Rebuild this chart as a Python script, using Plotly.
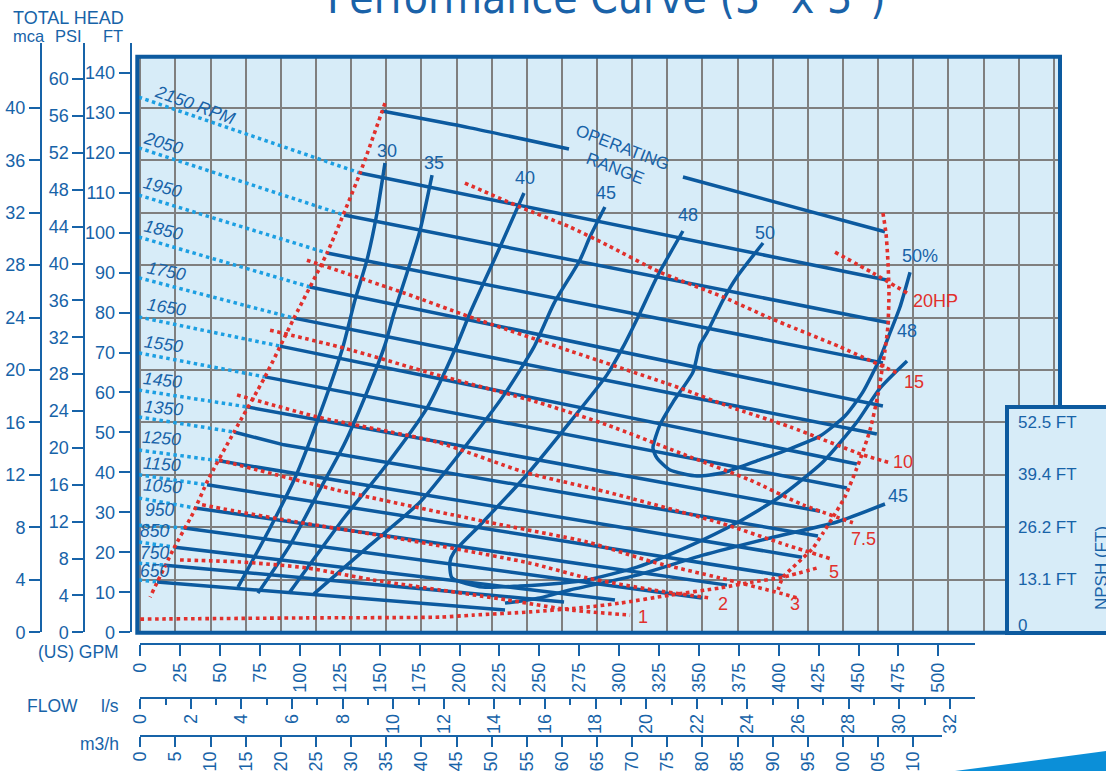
import plotly.graph_objects as go

W, H = 1106, 771

# ------------------------------------------------------------------
# Data (flow in US GPM, head in feet)
# ------------------------------------------------------------------
GPM_PER_LPS = 15.8503
GPM_PER_M3H = 4.40287
FT_PER_M = 3.28084
FT_PER_PSI = 2.30666

rpm_values = [2150, 2050, 1950, 1850, 1750, 1650, 1550, 1450, 1350, 1250, 1150, 1050, 950, 850, 750, 650]
rpm_start_gpm = [137.7, 127.6, 117.0, 106.3, 96.3, 87.5, 78.1, 66.8, 58.7, 49.3, 41.8, 34.3, 27.4, 21.7, 15.5, 10.5]
rpm_start_ft = [114.9, 104.4, 94.9, 86.4, 78.6, 71.6, 63.9, 56.4, 50.1, 42.9, 36.9, 31.1, 26.1, 21.3, 16.8, 12.6]
rpm_end_gpm = [468.4, 469.7, 465.3, 465.3, 461.5, 449.0, 442.7, 425.9, 424.6, 414.6, 404.0, 367.6, 351.9, 297.4, 265.5, 228.5]
rpm_end_ft = [88.1, 77.4, 67.4, 56.6, 49.6, 42.1, 36.1, 30.3, 24.1, 18.8, 14.1, 11.8, 8.6, 8.1, 7.6, 5.6]
rpm_left_gpm = -1.0
rpm_left_ft = [133.9, 121.2, 109.4, 98.9, 88.7, 78.9, 69.9, 60.6, 53.9, 45.6, 39.4, 33.6, 26.8, 22.6, 17.3, 13.1]
rpm_kink = {1350: (90.0, 46.9)}

rpm_label_text = ['2150 RPM', '2050', '1950', '1850', '1750', '1650', '1550', '1450',
                  '1350', '1250', '1150', '1050', '950', '850', '750', '650']
rpm_label_gpm = [34.5, 14.2, 14.2, 14.8, 16.1, 16.1, 14.8, 14.2, 14.8, 13.0, 13.6, 14.2, 12.3, 9.2, 9.2, 9.2]
rpm_label_ft = [131.8, 122.3, 111.4, 100.7, 90.4, 81.4, 72.1, 63.1, 56.1, 48.6, 42.1, 36.6, 30.6, 25.3, 19.8, 15.3]
rpm_label_angle = [20, 17, 15, 13, 11, 9, 8, 6, 5, 4, 4, 4, 0, 0, 0, 0]

eff30_gpm = [153.3, 148.3, 142.0, 134.5, 126.4, 110.7, 96.9, 81.3, 61.2]
eff30_ft = [117.4, 104.9, 93.1, 83.1, 70.6, 52.6, 38.6, 26.1, 11.3]
eff35_gpm = [182.8, 175.3, 167.1, 159.0, 153.3, 142.0, 127.6, 110.7, 93.8, 73.7]
eff35_ft = [114.4, 100.6, 89.9, 79.9, 71.9, 60.1, 46.9, 34.4, 21.8, 9.8]
eff40_gpm = [240.4, 225.4, 206.6, 198.4, 179.6, 152.7, 127.6, 93.2]
eff40_ft = [109.9, 96.4, 79.9, 71.9, 56.1, 41.1, 28.6, 9.8]
eff45_gpm = [291.1, 281.7, 275.4, 259.2, 246.7, 227.9, 202.8, 175.3, 143.9, 108.8]
eff45_ft = [106.4, 98.9, 93.1, 82.3, 71.4, 59.4, 46.1, 32.6, 21.8, 9.6]
eff45r_gpm = [228.5, 250.4, 269.2, 311.3, 352.5, 394.6, 436.4, 466.6]
eff45r_ft = [7.3, 8.6, 10.6, 14.3, 19.3, 23.6, 27.6, 32.1]
eff48_gpm = [340.0, 323.7, 313.1, 302.5, 292.4, 269.2, 240.4, 212.8, 196.6, 194.0, 195.3, 214.7,
             237.9, 263.0, 279.9, 311.3, 342.5, 373.8, 400.8, 427.7, 449.0, 463.5, 480.4]
eff48_ft = [100.4, 88.9, 79.9, 71.4, 64.4, 52.6, 38.6, 26.8, 20.1, 17.6, 13.6, 11.3,
            11.6, 12.3, 13.1, 16.3, 21.3, 27.4, 33.9, 42.6, 52.6, 61.1, 67.9]
eff50_gpm = [390.2, 373.8, 365.1, 355.0, 350.6, 346.3, 333.8, 325.6, 321.2, 323.7, 331.9,
             348.8, 365.1, 386.3, 407.1, 425.9, 441.5, 452.7, 463.5, 469.7, 476.0, 482.3]
eff50_ft = [97.4, 88.9, 83.1, 74.9, 71.9, 65.1, 57.6, 51.9, 46.1, 43.6, 40.6,
            39.1, 39.9, 42.9, 45.9, 49.1, 54.1, 60.1, 68.6, 74.9, 81.4, 90.1]

eff_label_text = ['30', '35', '40', '45', '48', '50', '50%', '48', '45']
eff_label_gpm = [154.6, 184.0, 241.0, 291.8, 343.1, 391.4, 488.5, 480.4, 474.8]
eff_label_ft = [120.3, 117.3, 113.7, 109.8, 104.4, 100.0, 94.1, 75.3, 34.0]

op_top_a_gpm = [151.4, 206.6, 268.6]
op_top_a_ft = [130.4, 126.2, 120.9]
op_top_b_gpm = [340.0, 466.6]
op_top_b_ft = [113.9, 100.2]

left_bound_gpm = [153.3, 137.7, 117.0, 96.3, 78.1, 58.7, 42.4, 33.0, 20.5, 6.1]
left_bound_ft = [132.4, 114.9, 94.9, 78.6, 63.9, 50.1, 38.1, 29.8, 20.6, 8.8]
bottom_bound_gpm = [0.0, 104.4, 187.8, 208.5, 244.2, 279.9, 300.6, 331.9, 363.2, 383.8, 402.7, 425.9]
bottom_bound_ft = [3.3, 3.6, 3.8, 4.3, 5.1, 6.3, 7.3, 9.3, 11.1, 12.6, 13.8, 16.3]
right_bound_gpm = [465.3, 467.2, 468.4, 469.1, 468.4, 466.6, 464.7, 462.2, 457.2, 450.9, 441.5,
                   434.0, 427.7, 421.5, 415.2, 409.0, 402.7, 399.6]
right_bound_ft = [104.9, 99.9, 93.1, 84.9, 76.4, 70.6, 65.6, 59.4, 50.6, 43.1, 33.9,
                  28.8, 24.8, 21.1, 18.6, 16.3, 13.8, 10.6]

hp20_gpm = [435.3, 459.0, 480.4]
hp20_ft = [95.1, 89.9, 84.9]
hp15_gpm = [203.4, 237.9, 269.2, 292.4, 325.6, 365.1, 394.6, 438.4, 474.1]
hp15_ft = [112.4, 106.4, 101.4, 96.9, 90.1, 83.9, 78.6, 71.4, 64.9]
hp10_gpm = [104.4, 165.2, 206.6, 269.2, 338.2, 369.5, 407.1, 452.7, 469.7]
hp10_ft = [93.1, 84.9, 78.9, 70.4, 61.1, 56.4, 51.4, 44.4, 42.4]
hp75_gpm = [81.3, 127.6, 185.9, 248.6, 292.4, 344.4, 382.0, 415.2, 446.5]
hp75_ft = [75.6, 71.1, 64.4, 57.6, 51.9, 43.9, 38.1, 31.9, 27.4]
hp5_gpm = [60.6, 110.7, 185.9, 240.4, 292.4, 363.2, 405.2, 433.4]
hp5_ft = [59.4, 53.9, 47.6, 40.1, 35.1, 27.4, 21.8, 18.3]
hp3_gpm = [49.3, 123.2, 217.2, 279.9, 321.2, 363.2, 400.8, 411.5]
hp3_ft = [43.1, 35.6, 27.6, 22.6, 17.6, 13.6, 9.8, 8.6]
hp2_gpm = [38.7, 62.5, 98.2, 167.1, 244.2, 279.9, 321.2, 356.9]
hp2_ft = [31.9, 30.1, 27.6, 23.1, 17.3, 13.6, 10.6, 8.6]
hp1_gpm = [24.9, 62.5, 104.4, 145.8, 187.8, 229.8, 269.2, 306.9]
hp1_ft = [18.1, 17.6, 16.1, 13.1, 10.6, 8.1, 5.6, 4.3]

hp_label_text = ['20HP', '15', '10', '7.5', '5', '3', '2', '1']
hp_label_gpm = [483.5, 477.9, 470.9, 444.6, 430.9, 406.4, 361.3, 311.2]
hp_label_ft = [83.0, 62.7, 42.6, 23.3, 15.2, 7.1, 7.2, 3.8]

npsh_label_text = ['52.5 FT', '39.4 FT', '26.2 FT', '13.1 FT', '0']
npsh_label_ft = [52.5, 39.4, 26.2, 13.1, 1.8]

ft_ticks = list(range(0, 141, 10))
psi_ticks = list(range(0, 61, 4))
mca_ticks = list(range(0, 41, 4))
gpm_ticks = list(range(0, 501, 25))
lps_ticks = list(range(0, 33, 2))
lps_minor_ticks = list(range(0, 34, 1))
m3h_ticks = list(range(0, 111, 5))

# ------------------------------------------------------------------
# Styling
# ------------------------------------------------------------------
BLUE = '#0c5a9f'
TXT = '#1763a8'
LBLUE = '#1c9fe2'
RED = '#e1302c'
BG = '#d7ecf8'
GRID = '#7f7f7f'
FONT = 'Liberation Sans, Arial, sans-serif'


def px(x):
    return x / W


def py(y):
    return 1 - y / H


fig = go.Figure()


def add_line(xs, ys, color, width=3.5, dash=None, shape='linear', smoothing=1.0):
    fig.add_trace(go.Scatter(
        x=xs, y=ys, mode='lines',
        line=dict(color=color, width=width, dash=dash, shape=shape, smoothing=smoothing),
        hoverinfo='skip', showlegend=False, xaxis='x', yaxis='y'))


# light-blue dotted speed extensions
for i, r in enumerate(rpm_values):
    add_line([rpm_left_gpm, rpm_start_gpm[i]], [rpm_left_ft[i], rpm_start_ft[i]], LBLUE, 3.5, 'dot')

# solid speed curves
for i, r in enumerate(rpm_values):
    xs = [rpm_start_gpm[i]]
    ys = [rpm_start_ft[i]]
    if r in rpm_kink:
        xs.append(rpm_kink[r][0])
        ys.append(rpm_kink[r][1])
    xs.append(rpm_end_gpm[i])
    ys.append(rpm_end_ft[i])
    add_line(xs, ys, BLUE, 3.5)

# efficiency curves
for gx, gy in [(eff30_gpm, eff30_ft), (eff35_gpm, eff35_ft), (eff40_gpm, eff40_ft),
               (eff45_gpm, eff45_ft), (eff45r_gpm, eff45r_ft), (eff48_gpm, eff48_ft),
               (eff50_gpm, eff50_ft)]:
    add_line(gx, gy, BLUE, 3.5, None, 'spline', 0.6)

# operating range top line
add_line(op_top_a_gpm, op_top_a_ft, BLUE, 3.5, None, 'spline', 0.6)
add_line(op_top_b_gpm, op_top_b_ft, BLUE, 3.5)

# red dotted boundaries and power curves
for gx, gy in [(left_bound_gpm, left_bound_ft), (bottom_bound_gpm, bottom_bound_ft),
               (right_bound_gpm, right_bound_ft), (hp20_gpm, hp20_ft), (hp15_gpm, hp15_ft),
               (hp10_gpm, hp10_ft), (hp75_gpm, hp75_ft), (hp5_gpm, hp5_ft),
               (hp3_gpm, hp3_ft), (hp2_gpm, hp2_ft), (hp1_gpm, hp1_ft)]:
    add_line(gx, gy, RED, 3.6, 'dot', 'spline', 0.6)

# invisible helpers so the extra unit axes are drawn (paired with hidden axes)
for xa, ya in [('x2', 'y5'), ('x3', 'y5'), ('x4', 'y5'), ('x5', 'y5'),
               ('x6', 'y2'), ('x6', 'y3'), ('x6', 'y4')]:
    fig.add_trace(go.Scatter(x=[0], y=[0], mode='markers', marker=dict(size=1, opacity=0),
                             xaxis=xa, yaxis=ya, hoverinfo='skip', showlegend=False))

# ------------------------------------------------------------------
# Axes
# ------------------------------------------------------------------
X0, X1 = 137.3, 1060.0      # plot frame (px)
Y0, Y1 = 56.7, 632.7
ZX = 140.3                  # px of 0 GPM
PPG = 1.596                 # px per GPM
ZY = 632.3                  # px of 0 ft
PPF = 3.997                 # px per ft

x_lo = (X0 - ZX) / PPG
x_hi = (X1 - ZX) / PPG
y_lo = (ZY - Y1) / PPF
y_hi = (ZY - Y0) / PPF

axis_common = dict(color=TXT, linecolor=TXT, tickcolor=TXT, showline=True, linewidth=2,
                   ticks='outside', ticklen=11, tickwidth=2, showgrid=False, zeroline=False,
                   tickfont=dict(size=18, color=TXT, family=FONT), automargin=False)
hidden = dict(visible=False, showgrid=False, zeroline=False, automargin=False)

left_top = 43.0
ft_top = (ZY - left_top) / PPF
ydom = [py(ZY), py(left_top)]

gx_end = 975.0
gpm_max = (gx_end - ZX) / PPG
m3h_end = 942.0

fig.update_layout(
    width=W, height=H, template='none',
    margin=dict(l=0, r=0, t=0, b=0, pad=0),
    paper_bgcolor='white', plot_bgcolor='rgba(0,0,0,0)',
    font=dict(family=FONT, color=TXT, size=18),
    showlegend=False,
    xaxis=dict(domain=[px(X0), px(X1)], range=[x_lo, x_hi], showgrid=True, gridcolor=GRID,
               gridwidth=2, tick0=0, dtick=5 * GPM_PER_M3H, showticklabels=False, ticks='',
               zeroline=False, showline=False, automargin=False),
    yaxis=dict(domain=[py(Y1), py(Y0)], range=[y_lo, y_hi], showgrid=True, gridcolor=GRID,
               gridwidth=2, tick0=0, dtick=4 * FT_PER_M, showticklabels=False, ticks='',
               zeroline=False, showline=False, automargin=False),
    xaxis6=dict(hidden, domain=[px(X0), px(X1)], range=[0, 1], anchor='free', position=0),
    yaxis5=dict(hidden, domain=[py(Y1), py(Y0)], range=[0, 1], anchor='free', position=0),
    xaxis2=dict(axis_common, anchor='free', position=py(643.5), side='bottom',
                domain=[px(ZX), px(gx_end)], range=[0, gpm_max], tickvals=gpm_ticks,
                tickangle=-90),
    xaxis3=dict(axis_common, anchor='free', position=py(697.9), side='bottom',
                domain=[px(ZX), px(gx_end)], range=[0, gpm_max / GPM_PER_LPS],
                tickvals=lps_ticks, tickangle=-90, ticklen=10, ticklabelstandoff=-2),
    xaxis5=dict(axis_common, anchor='free', position=py(697.9), side='bottom',
                domain=[px(ZX), px(gx_end)], range=[0, gpm_max / GPM_PER_LPS],
                tickvals=lps_minor_ticks, ticklen=6, showticklabels=False),
    xaxis4=dict(axis_common, anchor='free', position=py(736.4), side='bottom',
                domain=[px(ZX), px(m3h_end)],
                range=[0, (m3h_end - ZX) / PPG / GPM_PER_M3H],
                tickvals=m3h_ticks, tickangle=-90, ticklen=10, ticklabelstandoff=-3),
    yaxis2=dict(axis_common, anchor='free', position=px(130.7), side='left', domain=ydom,
                range=[0, ft_top], tickvals=ft_ticks),
    yaxis3=dict(axis_common, anchor='free', position=px(84.3), side='left', domain=ydom,
                range=[0, ft_top / FT_PER_PSI], tickvals=psi_ticks),
    yaxis4=dict(axis_common, anchor='free', position=px(41.0), side='left', domain=ydom,
                range=[0, ft_top / FT_PER_M], tickvals=mca_ticks),
)

# ------------------------------------------------------------------
# Shapes
# ------------------------------------------------------------------
shapes = [
    dict(type='rect', xref='x domain', yref='y domain', x0=0, x1=1, y0=0, y1=1,
         fillcolor=BG, line=dict(width=0), layer='below'),
    dict(type='rect', xref='x domain', yref='y domain', x0=0, x1=1, y0=0, y1=1,
         line=dict(color=BLUE, width=4), layer='above'),
    dict(type='rect', xref='paper', yref='paper', x0=px(1007), x1=px(1130), y0=py(633),
         y1=py(407), fillcolor=BG, line=dict(color=BLUE, width=4), layer='above'),
    dict(type='path', xref='paper', yref='paper',
         path=f'M {px(955)},{py(771)} L {px(1106)},{py(751)} L {px(1106)},{py(771)} Z',
         fillcolor='#0b8fd8', line=dict(width=0), layer='above'),
]
fig.update_layout(shapes=shapes)

# ------------------------------------------------------------------
# Annotations
# ------------------------------------------------------------------
ann = []


def add_text(text, x, y, xref='paper', yref='paper', size=18, color=TXT, xanchor='center',
             yanchor='middle', angle=0, family=FONT):
    ann.append(dict(text=text, x=x, y=y, xref=xref, yref=yref, showarrow=False,
                    xanchor=xanchor, yanchor=yanchor, textangle=angle, borderpad=0,
                    font=dict(size=size, color=color, family=family)))


add_text('Performance Curve (3" x 3")', px(606), py(24), size=44, yanchor='bottom',
         color='#1a62a8', family='Liberation Sans Narrow, DejaVu Sans Condensed, Liberation Sans')
add_text('TOTAL HEAD', px(68), py(18), size=18)
add_text('mca', px(28.5), py(35.5), size=16.5)
add_text('PSI', px(68.5), py(35.5), size=16.5)
add_text('FT', px(112.5), py(35.5), size=16.5)
add_text('(US) GPM', px(120), py(651.5), size=17.5, xanchor='right')
add_text('FLOW', px(52), py(706), size=17.5)
add_text('l/s', px(120), py(706), size=17.5, xanchor='right')
add_text('m3/h', px(120), py(744), size=17.5, xanchor='right')

for t, gx, gy, a in zip(rpm_label_text, rpm_label_gpm, rpm_label_ft, rpm_label_angle):
    add_text(f'<i>{t}</i>', gx, gy, 'x', 'y', size=17.5, angle=a)

for t, gx, gy in zip(eff_label_text, eff_label_gpm, eff_label_ft):
    add_text(t, gx, gy, 'x', 'y', size=18)

for t, gx, gy in zip(hp_label_text, hp_label_gpm, hp_label_ft):
    add_text(t, gx, gy, 'x', 'y', size=18, color=RED, xanchor='left')

add_text('OPERATING', 301.9, 121.2, 'x', 'y', size=17, angle=21)
add_text('RANGE', 297.4, 116.1, 'x', 'y', size=17, angle=21)

for t, gy in zip(npsh_label_text, npsh_label_ft):
    add_text(t, px(1017), gy, 'paper', 'y', size=17, xanchor='left')
add_text('NPSH (FT)', px(1101), py(568), size=17, angle=-90)

fig.update_layout(annotations=ann)

fig.write_html('out.html', config={'displayModeBar': False},
               post_script="document.body.style.margin='0px';")
